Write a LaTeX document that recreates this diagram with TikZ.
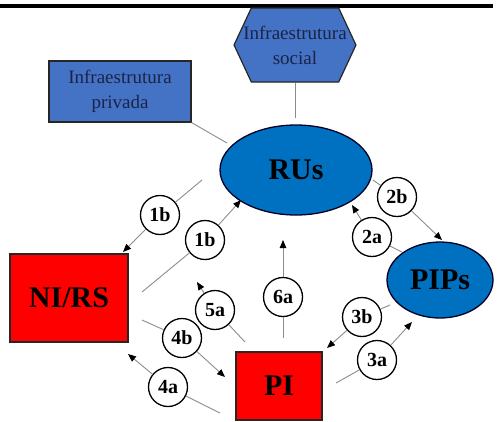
\documentclass[tikz,border=0pt]{standalone}
\usepackage{fontspec}
\setmainfont{Liberation Serif}
\usetikzlibrary{arrows.meta,shapes.geometric,shapes.symbols}
\definecolor{infrablue}{HTML}{4472C4}
\definecolor{coreblue}{HTML}{0070C0}
\definecolor{navytext}{HTML}{1B2447}
\definecolor{linegray}{HTML}{8C8C8C}
\tikzset{
    infra/.style =  {rectangle,
                    fill=infrablue,
                    draw=black!85,
                    text=navytext,
                    line width=1.2pt,
                    align=center,
                    inner sep=0pt,
                    font=\fontsize{19}{25}\selectfont},
    hexa/.style =   {signal,
                    signal to=east and west,
                    signal pointer angle=130,
                    fill=infrablue,
                    draw=black!85,
                    text=navytext,
                    line width=1.2pt,
                    align=center,
                    inner xsep=-8pt,
                    inner ysep=0pt,
                    font=\fontsize{19}{25}\selectfont},
    core/.style =   {ellipse,
                    fill=coreblue,
                    draw=black!85!blue,
                    text=black,
                    line width=1.3pt,
                    inner sep=0pt,
                    font=\bfseries\fontsize{30}{30}\selectfont},
    actor/.style =  {rectangle,
                    fill=red,
                    draw=black!85,
                    text=black,
                    line width=1.2pt,
                    inner sep=0pt,
                    font=\bfseries\fontsize{30}{30}\selectfont},
    num/.style =    {circle,
                    fill=white,
                    draw=black,
                    text=black,
                    line width=1.3pt,
                    inner sep=0pt,
                    minimum size=39pt,
                    font=\bfseries\fontsize{20}{20}\selectfont},
    -,
    plain/.style =  {draw=linegray, line width=0.9pt},
    link/.style =   {draw=linegray, line width=0.9pt,
                    -{Triangle[black,length=8pt,width=6.5pt]}}}

\begin{document}
\begin{tikzpicture}[x=1pt,y=-1pt]
    \useasboundingbox (0,0) rectangle (497,421);
    \draw [line width=3.5pt] (0,6) -- (493,6);

    \node[infra,minimum width=142pt,minimum height=61pt]   (priv)   at (120,91.5)  {Infraestrutura\\privada};
    \node[hexa,minimum height=74pt]                        (social) at (295,45)    {Infraestrutura\\social};
    \node[core,minimum width=152pt,minimum height=90pt]    (rus)    at (296,170)   {RUs};
    \node[core,minimum width=106pt,minimum height=76pt]    (pips)   at (440,280)   {PIPs};
    \node[actor,minimum width=118pt,minimum height=88pt]   (nirs)   at (69,298)    {NI/RS};
    \node[actor,minimum width=86pt,minimum height=68pt]    (pi)     at (279,386)   {PI};

    \node[num] (n1b)  at (160,215) {1b};
    \node[num] (n1bb) at (205,240) {1b};
    \node[num] (n2b)  at (397,197) {2b};
    \node[num] (n2a)  at (372,237) {2a};
    \node[num] (n3b)  at (362,317) {3b};
    \node[num] (n3a)  at (377,360) {3a};
    \node[num] (n4a)  at (168,387) {4a};
    \node[num] (n4b)  at (182,338) {4b};
    \node[num] (n5a)  at (215,310) {5a};
    \node[num] (n6a)  at (283,297) {6a};

    % free ends of the flows
    \coordinate (pv)   at (227,143);
    \coordinate (sc)   at (295,118);
    \coordinate (t1b)  at (202,180);  \coordinate (h1b)  at (123,252);
    \coordinate (t1bb) at (142,292);  \coordinate (h1bb) at (241,200);
    \coordinate (t2b)  at (373,180);  \coordinate (h2b)  at (442,240);
    \coordinate (t2a)  at (402,252);  \coordinate (h2a)  at (352,205);
    \coordinate (t3b)  at (390,305);  \coordinate (h3b)  at (327,348);
    \coordinate (t3a)  at (336,383);  \coordinate (h3a)  at (412,322);
    \coordinate (t4a)  at (220,413);  \coordinate (h4a)  at (128,354);
    \coordinate (t4b)  at (142,320);  \coordinate (h4b)  at (225,377);
    \coordinate (t5a)  at (245,342);  \coordinate (h5a)  at (197,282);
    \coordinate (t6a)  at (283,338);  \coordinate (h6a)  at (283,240);

    \path [plain]   (priv.south east) edge (pv)
                    (social.south)    edge (sc)
                    (t1b)  edge (n1b)
                    (t1bb) edge (n1bb)
                    (t2b)  edge (n2b)
                    (t2a)  edge (n2a)
                    (t3b)  edge (n3b)
                    (t3a)  edge (n3a)
                    (t4a)  edge (n4a)
                    (t4b)  edge (n4b)
                    (t5a)  edge (n5a)
                    (t6a)  edge (n6a);

    \path [link]    (n1b)  edge (h1b)
                    (n1bb) edge (h1bb)
                    (n2b)  edge (h2b)
                    (n2a)  edge (h2a)
                    (n3b)  edge (h3b)
                    (n3a)  edge (h3a)
                    (n4a)  edge (h4a)
                    (n4b)  edge (h4b)
                    (n5a)  edge (h5a)
                    (n6a)  edge (h6a);
\end{tikzpicture}
\end{document}
